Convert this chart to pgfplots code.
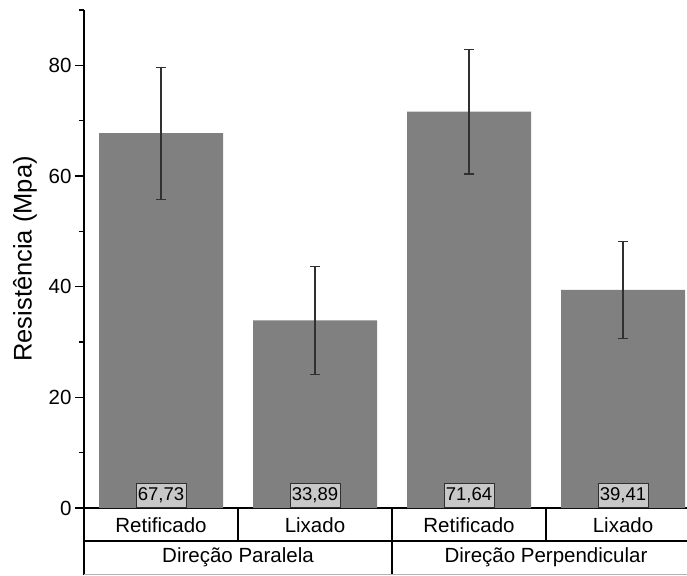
\documentclass[border=0pt]{standalone}
\usepackage{fontspec}
\setmainfont{Liberation Sans}
\usepackage{pgfplots}
\pgfplotsset{compat=1.18}
\definecolor{barg}{HTML}{808080}
\definecolor{boxg}{HTML}{C8C8C8}
\definecolor{errg}{HTML}{303030}
\begin{document}
\begin{tikzpicture}
\begin{axis}[
  name=ax,
  scale only axis,
  width=603pt, height=498pt,
  xmin=0.5, xmax=4.4156,
  ymin=0, ymax=90,
  axis lines*=left,
  axis line style={line width=1.2pt, black},
  ytick={0,20,40,60,80},
  minor ytick={10,30,50,70,90},
  tick align=outside,
  major tick length=9pt, minor tick length=5pt,
  ytick style={line width=1.2pt, black},
  xtick={1,2,3,4},
  xticklabels={Retificado,Lixado,Retificado,Lixado},
  x tick style={draw=none},
  xticklabel style={anchor=center, yshift=-8pt},
  tick label style={font=\fontsize{20.5}{24}\selectfont},
  /pgf/number format/assume math mode=true,
  ylabel={Resistência (Mpa)},
  ylabel style={at={(axis description cs:-0.0978,0.5)}, anchor=center, font=\fontsize{25.5}{30}\selectfont},
  clip=false,
]
\addplot[ybar, bar width=124pt, fill=barg, draw=none,
  error bars/.cd, y dir=both, y explicit,
  error bar style={line width=1.1pt, errg},
  error mark options={rotate=90, mark size=5pt, line width=1.2pt, errg}]
coordinates {(1,67.73) +- (0,11.93) (2,33.89) +- (0,9.73) (3,71.64) +- (0,11.27) (4,39.41) +- (0,8.75)};

\addplot[only marks, mark=none, point meta=explicit,
  /pgf/number format/.cd, fixed, fixed zerofill, precision=2, use comma, /pgfplots/.cd,
  nodes near coords,
  nodes near coords style={anchor=south, fill=boxg, draw=errg, line width=0.6pt, inner sep=0pt,
    minimum width=50pt, minimum height=24pt, font=\fontsize{18.5}{21}\selectfont,
    /pgf/number format/.cd, fixed, fixed zerofill, precision=2, use comma}]
coordinates {(1,0)[67.73] (2,0)[33.89] (3,0)[71.64] (4,0)[39.41]};

\draw[line width=1.2pt] (axis cs:0.5,0) -- ++(0pt,-67pt);
\draw[line width=1.2pt] (axis cs:1.5,0) -- ++(0pt,-33pt);
\draw[line width=1.2pt] (axis cs:2.5,0) -- ++(0pt,-67pt);
\draw[line width=1.2pt] (axis cs:3.5,0) -- ++(0pt,-33pt);
\draw[line width=1.2pt] ([yshift=-33pt]axis cs:0.5,0) -- ([yshift=-33pt]axis cs:4.4156,0);
\draw[line width=1.2pt, black!30] ([yshift=-66.5pt]axis cs:0.5,0) -- ([yshift=-66.5pt]axis cs:4.4156,0);
\node[font=\fontsize{20.5}{24}\selectfont] at ([yshift=-49.5pt]axis cs:1.5,0) {Direção Paralela};
\node[font=\fontsize{20.5}{24}\selectfont] at ([yshift=-49.5pt]axis cs:3.5,0) {Direção Perpendicular};
\end{axis}
\pgfresetboundingbox
\path[use as bounding box] ([xshift=-84pt,yshift=-67pt]ax.south west) rectangle ([yshift=10pt]ax.north east);
\end{tikzpicture}
\end{document}
